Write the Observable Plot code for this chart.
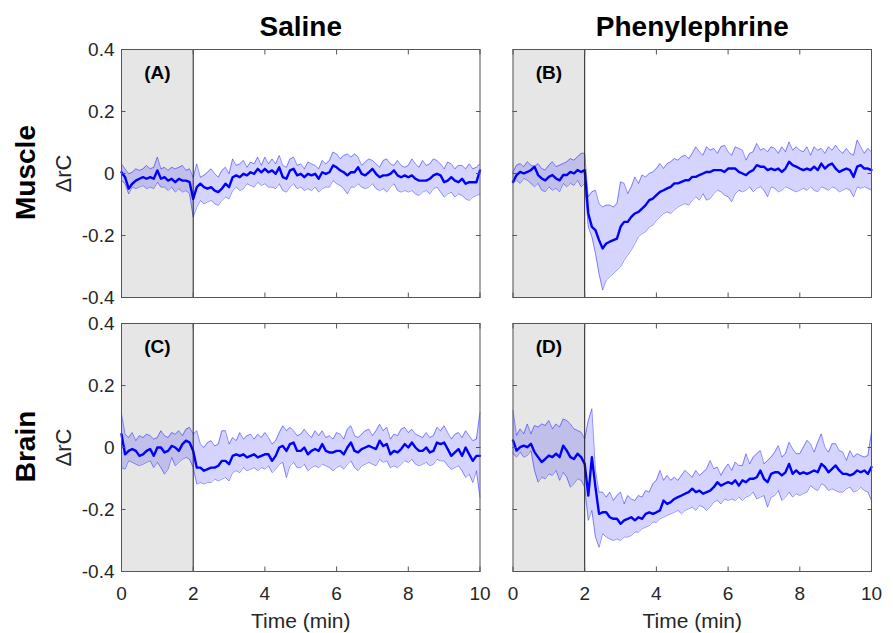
<!DOCTYPE html>
<html>
<head>
<meta charset="utf-8">
<script src="https://cdn.jsdelivr.net/npm/d3@7"></script>
<script src="https://cdn.jsdelivr.net/npm/@observablehq/plot@0.6"></script>
<style>
  html, body { margin: 0; padding: 0; background: #fff; }
  #chart svg { display: block; }
</style>
</head>
<body>
<div id="chart"></div>
<script>
// ---------- categories / labels ----------
const drugs = ["Saline", "Phenylephrine"];
const regions = ["Muscle", "Brain"];
const panelLabels = ["(A)", "(B)", "(C)", "(D)"];
const xTicks = [0, 2, 4, 6, 8, 10];
const yTicks = [-0.4, -0.2, 0, 0.2, 0.4];
const xLabel = "Time (min)";
const yLabel = "\u0394rC";
const baselineStart = 0;
const baselineEnd = 2;

// ---------- sample times (min) ----------
const time = [
  0,0.1,0.2,0.3,0.4,0.5,0.6,0.7,0.8,0.9,
  1,1.1,1.2,1.3,1.4,1.5,1.6,1.7,1.8,1.9,
  2,2.1,2.2,2.3,2.4,2.5,2.6,2.7,2.8,2.9,
  3,3.1,3.2,3.3,3.4,3.5,3.6,3.7,3.8,3.9,
  4,4.1,4.2,4.3,4.4,4.5,4.6,4.7,4.8,4.9,
  5,5.1,5.2,5.3,5.4,5.5,5.6,5.7,5.8,5.9,
  6,6.1,6.2,6.3,6.4,6.5,6.6,6.7,6.8,6.9,
  7,7.1,7.2,7.3,7.4,7.5,7.6,7.7,7.8,7.9,
  8,8.1,8.2,8.3,8.4,8.5,8.6,8.7,8.8,8.9,
  9,9.1,9.2,9.3,9.4,9.5,9.6,9.7,9.8,9.9,
  10];

// ---------- (A) Muscle / Saline ----------
const muscleSalineMean = [
  0.004,-0.012,-0.049,-0.033,-0.023,-0.017,-0.012,-0.017,-0.012,-0.017,
  0.010,-0.017,-0.012,-0.023,-0.017,-0.028,-0.017,-0.023,-0.023,-0.028,
  -0.082,-0.044,-0.033,-0.044,-0.049,-0.044,-0.055,-0.060,-0.049,-0.033,
  -0.044,-0.012,-0.006,-0.012,-0.001,-0.006,0.004,-0.001,0.015,0.004,
  0.015,0.004,0.010,-0.001,0.020,-0.012,-0.017,0.010,0.015,-0.006,
  -0.001,-0.012,-0.001,-0.006,-0.001,-0.017,0.004,-0.001,0.004,0.026,
  0.020,0.010,0.004,-0.006,0.004,0.004,0.020,-0.001,-0.006,0.004,
  0.015,-0.001,-0.012,-0.006,-0.006,-0.001,0.010,-0.006,-0.012,-0.006,
  -0.012,-0.006,-0.017,-0.023,-0.023,-0.023,-0.017,-0.006,-0.001,-0.006,
  -0.028,-0.023,-0.012,-0.023,-0.028,-0.017,-0.033,-0.028,-0.028,-0.028,
  0.010];
const muscleSalineHi = [
  0.031,0.015,-0.001,0.004,0.015,0.010,0.015,0.026,0.015,0.020,
  0.053,0.015,0.020,0.010,0.020,0.015,0.020,0.026,0.010,0.015,
  -0.012,0.031,-0.012,-0.006,0.004,0.015,-0.001,-0.012,0.010,0.020,
  -0.001,0.047,0.026,0.031,0.042,0.020,0.037,0.031,0.053,0.026,
  0.053,0.031,0.047,0.031,0.058,0.026,0.020,0.047,0.053,0.026,
  0.031,0.015,0.037,0.031,0.026,0.015,0.042,0.031,0.042,0.069,
  0.063,0.047,0.058,0.063,0.053,0.063,0.053,0.026,0.037,0.047,
  0.042,0.031,0.020,0.042,0.047,0.031,0.026,0.042,0.026,0.020,
  0.026,0.047,0.031,0.020,0.042,0.026,0.031,0.047,0.042,0.031,
  0.015,0.037,0.031,0.015,0.026,0.026,0.015,0.031,0.015,0.020,
  0.031];
const muscleSalineLo = [
  -0.023,-0.033,-0.066,-0.044,-0.049,-0.044,-0.039,-0.049,-0.044,-0.049,
  -0.028,-0.044,-0.044,-0.055,-0.044,-0.060,-0.049,-0.060,-0.055,-0.066,
  -0.141,-0.109,-0.087,-0.098,-0.092,-0.087,-0.098,-0.103,-0.087,-0.076,
  -0.082,-0.055,-0.044,-0.055,-0.049,-0.033,-0.039,-0.044,-0.028,-0.039,
  -0.033,-0.044,-0.044,-0.049,-0.033,-0.055,-0.060,-0.044,-0.033,-0.049,
  -0.044,-0.055,-0.049,-0.055,-0.044,-0.060,-0.049,-0.044,-0.044,-0.023,
  -0.033,-0.039,-0.049,-0.066,-0.044,-0.044,-0.033,-0.044,-0.049,-0.044,
  -0.033,-0.049,-0.055,-0.049,-0.060,-0.044,-0.033,-0.055,-0.060,-0.055,
  -0.060,-0.055,-0.066,-0.071,-0.060,-0.055,-0.066,-0.049,-0.044,-0.060,
  -0.076,-0.066,-0.060,-0.076,-0.066,-0.071,-0.082,-0.087,-0.076,-0.071,
  -0.066];

// ---------- (B) Muscle / Phenylephrine ----------
const musclePheMean = [
  -0.027,-0.005,0.005,0,0.005,0.011,0.022,-0.005,-0.016,-0.022,
  -0.011,-0.005,-0.016,-0.022,-0.005,-0.005,0.005,0,0.011,0.005,
  0.011,-0.129,-0.172,-0.183,-0.215,-0.242,-0.226,-0.220,-0.215,-0.210,
  -0.172,-0.156,-0.156,-0.140,-0.129,-0.124,-0.113,-0.102,-0.086,-0.081,
  -0.070,-0.059,-0.054,-0.048,-0.043,-0.032,-0.032,-0.027,-0.022,-0.022,
  -0.011,-0.011,-0.005,0,0.005,0.005,0.011,0.011,0.011,0.005,
  0.016,0.016,0.016,0.005,0,-0.005,0.005,0.011,0.027,0.022,
  0.022,0.011,0.016,0.011,0.016,0.005,0.016,0.038,0.027,0.022,
  0.016,0.011,0.016,0.011,0.022,0.011,0.032,0.016,0.027,0.032,
  0.016,0.005,0.011,0.016,0.011,-0.011,0.022,0.027,0.016,0.016,
  0.011];
const musclePheHi = [
  0.005,0.027,0.032,0.022,0.038,0.027,0.022,0.032,0.016,0.011,
  0.027,0.038,0.022,0.027,0.032,0.038,0.048,0.043,0.054,0.065,
  0.065,-0.075,-0.059,-0.054,-0.097,-0.108,-0.102,-0.102,-0.108,-0.097,
  -0.027,-0.032,-0.065,-0.043,-0.011,-0.032,-0.005,-0.011,0,0.005,
  0.016,0.032,0.016,0.032,0.038,0.048,0.043,0.054,0.059,0.048,
  0.065,0.086,0.070,0.059,0.086,0.075,0.081,0.065,0.086,0.091,
  0.070,0.059,0.086,0.081,0.075,0.043,0.065,0.070,0.097,0.075,
  0.081,0.070,0.086,0.081,0.065,0.086,0.070,0.102,0.075,0.086,
  0.075,0.070,0.086,0.059,0.086,0.075,0.081,0.065,0.086,0.075,
  0.091,0.075,0.065,0.081,0.065,0.059,0.108,0.086,0.065,0.081,
  0.070];
const musclePheLo = [
  -0.032,-0.022,-0.032,-0.016,-0.022,-0.032,-0.043,-0.032,-0.054,-0.059,
  -0.043,-0.054,-0.048,-0.059,-0.032,-0.043,-0.032,-0.038,-0.022,-0.043,
  -0.032,-0.172,-0.204,-0.258,-0.323,-0.376,-0.344,-0.333,-0.323,-0.312,
  -0.301,-0.280,-0.263,-0.247,-0.226,-0.204,-0.194,-0.188,-0.172,-0.167,
  -0.151,-0.140,-0.129,-0.124,-0.129,-0.118,-0.108,-0.102,-0.097,-0.102,
  -0.086,-0.075,-0.086,-0.065,-0.086,-0.081,-0.065,-0.054,-0.059,-0.070,
  -0.075,-0.091,-0.065,-0.054,-0.059,-0.054,-0.043,-0.059,-0.048,-0.043,
  -0.054,-0.075,-0.043,-0.048,-0.059,-0.054,-0.043,-0.048,-0.054,-0.059,
  -0.054,-0.048,-0.054,-0.043,-0.054,-0.059,-0.043,-0.048,-0.054,-0.043,
  -0.048,-0.059,-0.054,-0.048,-0.054,-0.075,-0.043,-0.048,-0.043,-0.048,
  -0.054];

// ---------- (C) Brain / Saline ----------
const brainSalineMean = [
  0.043,-0.022,-0.011,-0.005,-0.011,-0.027,-0.022,-0.011,-0.005,-0.027,
  0,0,-0.016,-0.011,0.005,0,-0.011,0.011,0.022,0.016,
  -0.011,-0.065,-0.065,-0.075,-0.070,-0.065,-0.065,-0.059,-0.043,-0.043,
  -0.054,-0.027,-0.022,-0.027,-0.022,-0.032,-0.027,-0.022,-0.032,-0.027,
  -0.022,-0.022,-0.043,-0.027,0,0.005,-0.011,0.011,0.016,-0.011,
  -0.011,0,-0.022,-0.011,-0.005,-0.011,0.011,-0.011,-0.016,-0.016,
  -0.011,-0.011,-0.022,0,0.016,-0.011,-0.016,-0.005,0,0.005,
  0,-0.005,0.022,0.005,0.011,-0.022,-0.011,-0.016,-0.005,0.011,
  0,0.016,0,-0.011,-0.011,0,-0.016,-0.011,0.016,0.011,
  0.016,-0.005,-0.027,-0.016,-0.005,-0.027,0,-0.022,-0.043,-0.027,
  -0.027];
const brainSalineHi = [
  0.108,0.043,0.032,0.048,0.022,0.038,0.032,0.043,0.038,0.027,
  0.032,0.054,0.038,0.032,0.048,0.043,0.054,0.038,0.059,0.065,
  0.043,0.054,0.011,0,0.016,0.022,0.005,0.011,0.054,0.054,
  0.011,0.032,0.022,0.048,0.027,0.038,0.043,0.027,0.043,0.032,
  0.048,0.032,0.011,0.022,0.048,0.070,0.054,0.065,0.054,0.038,
  0.043,0.059,0.043,0.032,0.054,0.038,0.054,0.032,0.038,0.027,
  0.048,0.043,0.027,0.059,0.070,0.038,0.032,0.043,0.054,0.059,
  0.038,0.054,0.075,0.054,0.065,0.027,0.043,0.038,0.059,0.065,
  0.048,0.059,0.043,0.038,0.032,0.048,0.032,0.038,0.065,0.054,
  0.070,0.048,0.027,0.043,0.048,0.032,0.054,0.038,0.022,0.027,
  0.113];
const brainSalineLo = [
  -0.065,-0.070,-0.043,-0.048,-0.054,-0.059,-0.054,-0.048,-0.043,-0.065,
  -0.048,-0.065,-0.086,-0.070,-0.032,-0.059,-0.048,-0.038,-0.032,-0.038,
  -0.065,-0.118,-0.113,-0.118,-0.113,-0.113,-0.102,-0.108,-0.102,-0.097,
  -0.108,-0.081,-0.075,-0.081,-0.065,-0.075,-0.070,-0.065,-0.075,-0.065,
  -0.070,-0.059,-0.081,-0.070,-0.054,-0.048,-0.097,-0.059,-0.048,-0.065,
  -0.065,-0.054,-0.075,-0.065,-0.059,-0.065,-0.054,-0.059,-0.065,-0.075,
  -0.065,-0.059,-0.070,-0.054,-0.043,-0.065,-0.075,-0.059,-0.054,-0.048,
  -0.054,-0.059,-0.038,-0.048,-0.043,-0.065,-0.059,-0.065,-0.054,-0.043,
  -0.048,-0.038,-0.054,-0.059,-0.054,-0.048,-0.059,-0.054,-0.038,-0.043,
  -0.043,-0.059,-0.070,-0.065,-0.059,-0.075,-0.097,-0.086,-0.113,-0.075,
  -0.161];

// ---------- (D) Brain / Phenylephrine ----------
const brainPheMean = [
  0.023,-0.010,0.001,0.006,0.001,0.012,-0.015,-0.031,-0.047,-0.037,
  -0.026,-0.031,-0.020,-0.031,0.006,-0.010,-0.031,-0.037,-0.020,-0.031,
  -0.053,-0.155,-0.031,-0.128,-0.214,-0.209,-0.209,-0.225,-0.230,-0.230,
  -0.246,-0.235,-0.230,-0.225,-0.235,-0.225,-0.230,-0.214,-0.209,-0.214,
  -0.209,-0.203,-0.171,-0.182,-0.176,-0.166,-0.160,-0.155,-0.149,-0.144,
  -0.133,-0.144,-0.139,-0.149,-0.144,-0.139,-0.128,-0.112,-0.123,-0.117,
  -0.112,-0.117,-0.106,-0.123,-0.106,-0.112,-0.101,-0.101,-0.096,-0.074,
  -0.101,-0.112,-0.085,-0.080,-0.080,-0.090,-0.080,-0.053,-0.085,-0.074,
  -0.085,-0.080,-0.085,-0.080,-0.074,-0.080,-0.053,-0.063,-0.080,-0.069,
  -0.058,-0.074,-0.085,-0.085,-0.090,-0.085,-0.074,-0.080,-0.074,-0.085,
  -0.063];
const brainPheHi = [
  0.119,0.039,0.060,0.044,0.076,0.044,0.071,0.066,0.076,0.071,
  0.087,0.060,0.076,0.066,0.092,0.087,0.076,0.060,0.055,0.049,
  0.028,0.087,0.125,-0.074,-0.144,-0.144,-0.160,-0.144,-0.171,-0.155,
  -0.144,-0.182,-0.155,-0.166,-0.171,-0.155,-0.160,-0.139,-0.144,-0.117,
  -0.106,-0.074,-0.106,-0.090,-0.106,-0.096,-0.106,-0.090,-0.074,-0.085,
  -0.096,-0.074,-0.090,-0.080,-0.069,-0.042,-0.069,-0.063,-0.090,-0.069,
  -0.053,-0.074,-0.047,-0.058,-0.058,-0.020,-0.053,-0.031,-0.020,-0.010,
  -0.053,-0.042,-0.031,-0.015,0.006,-0.031,-0.020,0.017,-0.004,-0.020,
  -0.020,0.001,0.023,0.012,-0.015,0.017,0.044,0.001,-0.015,0.012,
  0.012,-0.010,-0.015,-0.042,-0.010,-0.031,-0.020,-0.026,-0.031,-0.026,
  0.049];
const brainPheLo = [
  -0.020,-0.031,-0.015,-0.031,-0.026,-0.010,-0.074,-0.112,-0.096,-0.101,
  -0.085,-0.090,-0.074,-0.106,-0.080,-0.096,-0.128,-0.117,-0.101,-0.106,
  -0.128,-0.235,-0.203,-0.289,-0.322,-0.278,-0.289,-0.295,-0.300,-0.295,
  -0.300,-0.289,-0.289,-0.284,-0.273,-0.273,-0.262,-0.257,-0.252,-0.241,
  -0.241,-0.230,-0.225,-0.219,-0.214,-0.209,-0.203,-0.214,-0.203,-0.198,
  -0.192,-0.203,-0.187,-0.192,-0.203,-0.192,-0.176,-0.171,-0.182,-0.166,
  -0.171,-0.166,-0.171,-0.160,-0.171,-0.160,-0.155,-0.144,-0.166,-0.160,
  -0.155,-0.192,-0.160,-0.155,-0.139,-0.171,-0.160,-0.144,-0.160,-0.149,
  -0.155,-0.149,-0.144,-0.123,-0.133,-0.139,-0.117,-0.123,-0.139,-0.133,
  -0.139,-0.144,-0.144,-0.133,-0.128,-0.144,-0.139,-0.128,-0.139,-0.144,
  -0.171];

// ---------- assemble ----------
const panels = [
  {drug: "Saline",        region: "Muscle", label: panelLabels[0], mean: muscleSalineMean, lo: muscleSalineLo, hi: muscleSalineHi},
  {drug: "Phenylephrine", region: "Muscle", label: panelLabels[1], mean: musclePheMean,    lo: musclePheLo,    hi: musclePheHi},
  {drug: "Saline",        region: "Brain",  label: panelLabels[2], mean: brainSalineMean,  lo: brainSalineLo,  hi: brainSalineHi},
  {drug: "Phenylephrine", region: "Brain",  label: panelLabels[3], mean: brainPheMean,     lo: brainPheLo,     hi: brainPheHi}
];
const rows = [];
for (const p of panels) {
  for (const arr of [p.mean, p.lo, p.hi]) if (arr.length !== time.length) throw new Error(p.label + " length " + arr.length);
  time.forEach((t, i) => rows.push({drug: p.drug, region: p.region, t, mean: p.mean[i], lo: p.lo[i], hi: p.hi[i]}));
}

const FONT = '"Liberation Sans", Arial, Helvetica, sans-serif';
const INK = "#262626";
const BLUE = "#0000ff";

const chart = Plot.plot({
  width: 893,
  height: 633,
  marginLeft: 121,
  marginRight: 22,
  marginTop: 49,
  marginBottom: 62,
  style: {fontFamily: FONT, color: INK, background: "#fff", overflow: "visible"},
  fx: {domain: drugs, paddingInner: 0.0843, paddingOuter: 0, round: false, axis: null},
  fy: {domain: regions, paddingInner: 0.0949, paddingOuter: 0, round: false, axis: null},
  x: {domain: [0, 10], label: null},
  y: {domain: [-0.4, 0.4], label: null},
  marks: [
    // baseline window shading
    Plot.rect([{start: baselineStart, end: baselineEnd}], {x1: "start", x2: "end", fill: "#e6e6e6"}),
    // error band
    Plot.areaY(rows, {x: "t", y1: "lo", y2: "hi", fx: "drug", fy: "region", fill: BLUE, fillOpacity: 0.17}),
    Plot.line(rows, {x: "t", y: "lo", fx: "drug", fy: "region", stroke: BLUE, strokeOpacity: 0.42, strokeWidth: 1}),
    Plot.line(rows, {x: "t", y: "hi", fx: "drug", fy: "region", stroke: BLUE, strokeOpacity: 0.42, strokeWidth: 1}),
    // mean
    Plot.line(rows, {x: "t", y: "mean", fx: "drug", fy: "region", stroke: BLUE, strokeWidth: 2.4}),
    // injection time
    Plot.ruleX([baselineEnd], {stroke: "#1a1a1a", strokeWidth: 1}),
    Plot.frame({stroke: "#555", strokeWidth: 1}),
    // inward ticks, every panel, all four sides
    Plot.axisX(xTicks, {anchor: "bottom", tickSize: 4.5, inset: 4.5, fill: "none", stroke: "#555", facetAnchor: null, label: null}),
    Plot.axisX(xTicks, {anchor: "top", tickSize: 4.5, inset: 4.5, fill: "none", stroke: "#555", facetAnchor: null, label: null}),
    Plot.axisY(yTicks, {anchor: "left", tickSize: 4.5, inset: 4.5, fill: "none", stroke: "#555", facetAnchor: null, label: null}),
    Plot.axisY(yTicks, {anchor: "right", tickSize: 4.5, inset: 4.5, fill: "none", stroke: "#555", facetAnchor: null, label: null}),
    // tick labels
    Plot.axisX(xTicks, {anchor: "bottom", tickSize: 0, tickPadding: 15, label: null, fontSize: 19, fill: INK, tickFormat: d => String(d)}),
    Plot.axisY(yTicks, {anchor: "left", tickSize: 0, tickPadding: 7, label: null, fontSize: 19, fill: INK, tickFormat: d => String(d)}),
    // panel letters
    Plot.text(panels, {fx: "drug", fy: "region", x: () => baselineEnd / 2, frameAnchor: "top", dy: 23, text: "label",
      fontWeight: "bold", fontSize: 19, fill: "#000", fontFamily: FONT, lineAnchor: "middle"}),
    // column titles
    Plot.text(drugs, {fx: d => d, fy: () => regions[0], frameAnchor: "top", dy: -22, text: d => d,
      fontWeight: "bold", fontSize: 28, fill: "#000", fontFamily: FONT, textAnchor: "middle", lineAnchor: "middle"}),
    // row titles
    Plot.text(regions, {fx: () => drugs[0], fy: d => d, frameAnchor: "left", dx: -95, dy: -1, rotate: -90, text: d => d,
      fontWeight: "bold", fontSize: 28, fill: "#000", fontFamily: FONT, textAnchor: "middle", lineAnchor: "middle"}),
    // y label
    Plot.text(regions, {fx: () => drugs[0], fy: d => d, frameAnchor: "left", dx: -58, rotate: -90, text: () => yLabel,
      fontSize: 22, fill: INK, fontFamily: FONT, textAnchor: "middle", lineAnchor: "middle"}),
    // x label
    Plot.text(drugs, {fx: d => d, fy: () => regions[1], frameAnchor: "bottom", dy: 50, text: () => xLabel,
      fontSize: 21, fill: INK, fontFamily: FONT, textAnchor: "middle", lineAnchor: "middle"})
  ]
});
document.getElementById("chart").appendChild(chart);
</script>
</body>
</html>
